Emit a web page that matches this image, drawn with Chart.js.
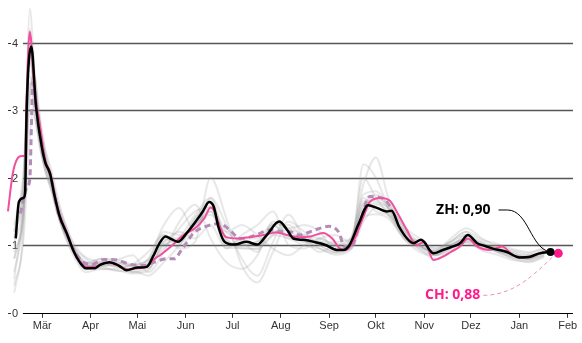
<!DOCTYPE html>
<html>
<head>
<meta charset="utf-8">
<script src="https://cdn.jsdelivr.net/npm/chart.js@4/dist/chart.umd.min.js"></script>
<style>
  body { margin: 0; background: #fff; }
  #chart { display: block; }
</style>
</head>
<body>
<canvas id="chart" width="582" height="343"></canvas>
<script>
// days counted from 1 March 2020
const monthDays = [0, 31, 61, 92, 122, 153, 184, 214, 245, 275, 306, 337]
const monthLabels = ['Mär', 'Apr', 'Mai', 'Jun', 'Jul', 'Aug', 'Sep', 'Okt', 'Nov', 'Dez', 'Jan', 'Feb']
const yTicks = [0, 1, 2, 3, 4]

const zhDays = [-17, -15, -12, -11, -10, -7, -4, 0, 2, 5, 8, 11, 16, 20, 24, 28, 34, 37, 43, 49, 54, 61, 67, 71, 75, 79, 83, 87, 93, 99, 103, 107, 110, 113, 117, 123, 131, 138, 144, 152, 157, 161, 167, 176, 182, 189, 193, 197, 203, 209, 215, 221, 224, 229, 234, 238, 243, 251, 257, 262, 268, 273, 279, 284, 289, 298, 306, 313, 319, 326]
const zhValues = [1.10, 1.64, 1.70, 1.77, 3.0, 3.94, 3.05, 2.42, 2.22, 2.06, 1.72, 1.44, 1.16, 0.92, 0.75, 0.66, 0.66, 0.71, 0.75, 0.70, 0.63, 0.67, 0.68, 0.83, 1.02, 1.13, 1.09, 1.05, 1.19, 1.37, 1.50, 1.64, 1.57, 1.27, 1.05, 1.01, 1.05, 1.01, 1.15, 1.35, 1.23, 1.10, 1.08, 1.04, 1.00, 0.93, 0.93, 1.00, 1.32, 1.59, 1.55, 1.50, 1.51, 1.27, 1.10, 1.03, 1.08, 0.88, 0.93, 0.97, 1.03, 1.15, 1.03, 0.99, 0.95, 0.90, 0.82, 0.83, 0.88, 0.90]

const chDays = [-22, -19, -16, -13, -11, -10, -8, -5, -2, 2, 5, 8, 11, 16, 20, 24, 28, 34, 38, 43, 49, 55, 61, 67, 71, 76, 82, 90, 99, 104, 108, 110, 114, 118, 125, 133, 142, 150, 157, 165, 172, 180, 186, 191, 195, 200, 206, 210, 217, 223, 228, 234, 240, 245, 251, 257, 262, 268, 273, 279, 287, 295, 302, 311, 319, 326, 331]
const chValues = [1.50, 2.05, 2.28, 2.32, 2.32, 3.2, 4.16, 3.3, 2.85, 2.25, 2.08, 1.75, 1.46, 1.17, 0.92, 0.76, 0.68, 0.68, 0.72, 0.74, 0.70, 0.64, 0.66, 0.68, 0.78, 0.86, 0.97, 1.14, 1.27, 1.40, 1.56, 1.52, 1.27, 1.12, 1.10, 1.12, 1.15, 1.19, 1.15, 1.12, 1.13, 1.18, 1.10, 0.95, 0.93, 1.08, 1.42, 1.64, 1.70, 1.66, 1.47, 1.22, 1.00, 1.05, 0.78, 0.83, 0.90, 0.98, 1.10, 0.98, 0.93, 0.98, 0.85, 0.82, 0.88, 0.90, 0.88]

const dashDays = [-14, -10, -8, -6, -3, 1, 5, 10, 16, 21, 26, 32, 40, 48, 56, 64, 72, 80, 85, 89, 93, 97, 105, 114, 120, 127, 133, 140, 146, 152, 159, 165, 172, 178, 184, 190, 194, 198, 204, 210, 219, 224]
const dashValues = [1.47, 1.85, 1.97, 3.4, 2.9, 2.3, 2.05, 1.5, 1.15, 0.9, 0.75, 0.72, 0.79, 0.78, 0.72, 0.70, 0.75, 0.80, 0.80, 0.92, 1.05, 1.18, 1.28, 1.32, 1.23, 1.10, 1.12, 1.18, 1.23, 1.20, 1.20, 1.15, 1.20, 1.25, 1.28, 1.20, 0.98, 0.98, 1.35, 1.72, 1.69, 1.55]

// cantons (grey)
const greyDays = [-18, -12, -8, -5, -2, 2, 6, 10, 15, 21, 28, 38, 48, 58, 68, 78, 88, 98, 108, 118, 128, 138, 148, 158, 168, 178, 188, 198, 206, 214, 222, 232, 242, 252, 262, 272, 282, 292, 302, 312, 322]
const grey1 = [0.4, 1.3, 4.5, 3.6, 2.9, 2.3, 2.0, 1.6, 1.25, 0.9, 0.7, 0.75, 0.72, 0.6, 0.7, 0.95, 1.25, 1.5, 1.55, 1.2, 1.05, 0.9, 1.3, 1.1, 1.15, 1.0, 1.05, 1.1, 1.9, 2.3, 1.7, 1.25, 1.05, 0.95, 1.05, 1.15, 1.05, 0.95, 0.9, 0.85, 0.92]
const grey2 = [0.9, 1.5, 3.3, 3.5, 3.0, 2.4, 2.0, 1.5, 1.1, 0.85, 0.72, 0.8, 0.75, 0.7, 0.8, 1.3, 1.55, 1.2, 1.7, 1.3, 0.8, 0.55, 1.05, 1.45, 1.1, 0.9, 1.0, 1.05, 1.45, 1.6, 1.5, 1.1, 1.0, 0.92, 1.05, 1.2, 0.95, 1.0, 0.88, 0.8, 0.88]
const grey3 = [1.2, 2.0, 3.9, 3.0, 2.5, 2.1, 1.8, 1.45, 1.15, 0.95, 0.8, 0.65, 0.65, 0.72, 0.9, 1.15, 0.95, 1.05, 2.0, 1.4, 0.7, 0.45, 0.9, 1.35, 1.2, 1.0, 0.9, 0.95, 2.2, 2.0, 1.55, 1.15, 0.95, 0.85, 0.95, 1.05, 1.0, 0.92, 0.82, 0.78, 0.85]
const grey4 = [0.6, 1.4, 3.0, 2.9, 2.6, 2.3, 1.9, 1.5, 1.2, 0.92, 0.75, 0.7, 0.78, 0.85, 0.6, 0.9, 1.35, 1.6, 1.1, 0.75, 0.65, 0.85, 1.35, 1.25, 1.3, 1.2, 0.92, 1.1, 1.75, 1.8, 1.6, 1.25, 1.0, 0.92, 1.1, 1.25, 1.1, 0.98, 0.92, 0.88, 0.95]
const grey5 = [1.0, 1.8, 4.2, 3.3, 2.7, 2.2, 1.85, 1.5, 1.2, 0.9, 0.7, 0.68, 0.62, 0.62, 0.55, 0.75, 1.0, 1.3, 1.45, 1.2, 1.3, 1.15, 0.95, 0.85, 1.0, 1.1, 1.15, 1.05, 1.6, 1.75, 1.55, 1.2, 1.0, 0.85, 1.0, 1.05, 0.98, 0.9, 0.8, 0.75, 0.82]
const grey6 = [0.3, 1.1, 2.6, 3.1, 2.8, 2.4, 2.1, 1.7, 1.3, 1.0, 0.82, 0.75, 0.68, 0.7, 0.78, 1.05, 1.2, 1.1, 1.3, 0.95, 1.15, 1.3, 1.5, 1.0, 0.95, 1.1, 1.0, 0.95, 1.35, 1.55, 1.45, 1.15, 0.98, 0.9, 1.0, 1.1, 1.02, 0.92, 0.85, 0.8, 0.9]
const grey7 = [0.8, 1.6, 3.7, 3.4, 2.8, 2.2, 1.9, 1.55, 1.2, 0.88, 0.68, 0.7, 0.7, 0.6, 0.65, 1.0, 1.1, 1.3, 1.5, 1.1, 0.95, 0.95, 1.15, 1.3, 1.1, 0.95, 0.88, 1.0, 2.0, 1.7, 1.45, 1.1, 0.9, 0.85, 0.92, 1.08, 1.0, 0.9, 0.82, 0.8, 0.86]
const grey8 = [1.1, 1.9, 3.5, 3.2, 2.6, 2.1, 1.8, 1.45, 1.15, 0.88, 0.65, 0.72, 0.72, 0.68, 0.72, 1.1, 1.05, 1.4, 1.65, 1.05, 1.0, 1.05, 1.2, 1.15, 1.05, 1.05, 0.95, 1.0, 1.65, 1.65, 1.55, 1.2, 1.0, 0.9, 1.0, 1.1, 1.0, 0.94, 0.86, 0.82, 0.9]
const grey9 = [1.2, 1.8, 3.8, 3.3, 2.8, 2.3, 2.0, 1.62, 1.3, 0.95, 0.74, 0.8, 0.78, 0.72, 0.78, 1.2, 1.15, 1.45, 1.7, 1.12, 1.1, 1.1, 1.32, 1.25, 1.15, 1.1, 1.02, 1.1, 1.62, 1.68, 1.6, 1.28, 1.1, 0.96, 1.06, 1.2, 1.08, 1.02, 0.94, 0.9, 0.96]
const grey10 = [0.8, 1.5, 3.4, 3.0, 2.55, 2.1, 1.85, 1.45, 1.12, 0.8, 0.6, 0.65, 0.63, 0.58, 0.62, 1.02, 0.98, 1.25, 1.5, 0.96, 0.96, 0.94, 1.15, 1.1, 1.0, 0.95, 0.86, 0.94, 1.42, 1.46, 1.4, 1.1, 0.94, 0.8, 0.9, 1.03, 0.92, 0.86, 0.78, 0.76, 0.84]
const grey11 = [1.3, 2.1, 4.0, 3.4, 2.9, 2.25, 1.9, 1.5, 1.18, 0.92, 0.7, 0.68, 0.74, 0.7, 0.66, 1.05, 1.12, 1.3, 1.55, 1.08, 1.0, 1.06, 1.2, 1.22, 1.04, 1.06, 0.98, 0.98, 1.7, 1.5, 1.45, 1.22, 0.98, 0.92, 1.02, 1.08, 1.04, 0.9, 0.88, 0.8, 0.93]
const grey12 = [0.5, 1.6, 3.2, 3.5, 2.6, 2.15, 2.0, 1.6, 1.25, 0.85, 0.64, 0.75, 0.68, 0.64, 0.74, 1.15, 1.02, 1.4, 1.58, 1.0, 1.08, 0.98, 1.3, 1.14, 1.12, 1.0, 0.9, 1.06, 1.55, 1.62, 1.55, 1.14, 1.06, 0.86, 0.96, 1.16, 0.98, 0.97, 0.84, 0.86, 0.88]
const greySeries = [grey1, grey2, grey3, grey4, grey5, grey6, grey7, grey8, grey9, grey10, grey11, grey12]

const zhLabel = 'ZH: 0,90'
const chLabel = 'CH: 0,88'

const black = '#000'
const pink = '#f0509e'
const pinkStrong = '#ff1a8c'
const mauve = '#b48cb8'

function points(days, values) {
    return days.map((d, i) => ({x: d, y: values[i]}))
}

const datasets = [
    {data: points(zhDays, zhValues), borderColor: black, borderWidth: 2.5},
    {data: points(chDays, chValues), borderColor: pink, borderWidth: 2},
    {data: points(dashDays, dashValues), borderColor: mauve, borderWidth: 3, borderDash: [6, 4]},
]
greySeries.forEach(g => {
    datasets.push({data: points(greyDays, g), borderColor: 'rgba(150,150,150,0.22)', borderWidth: 2})
})
datasets.forEach(ds => {
    ds.pointRadius = 0
    ds.cubicInterpolationMode = 'monotone'
    ds.fill = false
})

const decor = {
    id: 'decor',
    beforeDatasetsDraw(chart) {
        const {ctx} = chart
        const xs = chart.scales.x, ys = chart.scales.y
        const x0 = xs.getPixelForValue(-12.4)
        const x1 = xs.getPixelForValue(340.4)
        ctx.save()
        yTicks.forEach(t => {
            const y = Math.round(ys.getPixelForValue(t)) + 0.5
            ctx.beginPath()
            ctx.strokeStyle = t === 0 ? '#000' : '#555'
            ctx.lineWidth = t === 0 ? 1 : 1.5
            ctx.moveTo(x0, y)
            ctx.lineTo(x1, y)
            ctx.stroke()
            // little tick + label
            ctx.beginPath()
            ctx.strokeStyle = '#333'
            ctx.lineWidth = 1
            ctx.moveTo(8, y)
            ctx.lineTo(11, y)
            ctx.stroke()
            ctx.fillStyle = '#333'
            ctx.font = '11px Helvetica, Arial, sans-serif'
            ctx.textAlign = 'left'
            ctx.textBaseline = 'middle'
            ctx.fillText(String(t), 12, y)
        })
        ctx.restore()
    },
    afterDatasetsDraw(chart) {
        const {ctx} = chart
        const xs = chart.scales.x, ys = chart.scales.y
        const zx = xs.getPixelForValue(zhDays[zhDays.length - 1])
        const zy = ys.getPixelForValue(zhValues[zhValues.length - 1])
        const cx = xs.getPixelForValue(chDays[chDays.length - 1])
        const cy = ys.getPixelForValue(chValues[chValues.length - 1])
        ctx.save()

        // CH connector + label
        ctx.beginPath()
        ctx.setLineDash([4, 3])
        ctx.strokeStyle = '#f58cbf'
        ctx.lineWidth = 1
        ctx.moveTo(cx - 75, cy + 42)
        ctx.bezierCurveTo(cx - 45, cy + 42, cx - 25, cy + 22, cx - 5, cy + 3)
        ctx.stroke()
        ctx.setLineDash([])
        ctx.beginPath()
        ctx.fillStyle = pinkStrong
        ctx.arc(cx, cy, 4.5, 0, Math.PI * 2)
        ctx.fill()
        ctx.font = 'bold 14px "Open Sans", sans-serif'
        ctx.textAlign = 'right'
        ctx.textBaseline = 'middle'
        ctx.fillText(chLabel, cx - 78, cy + 42)

        // ZH connector + label
        ctx.beginPath()
        ctx.strokeStyle = '#000'
        ctx.lineWidth = 1
        ctx.moveTo(zx - 52, zy - 42)
        ctx.lineTo(zx - 43, zy - 42)
        ctx.bezierCurveTo(zx - 22, zy - 42, zx - 20, zy - 3, zx, zy)
        ctx.stroke()
        ctx.beginPath()
        ctx.fillStyle = '#000'
        ctx.arc(zx, zy, 4, 0, Math.PI * 2)
        ctx.fill()
        ctx.font = 'bold 14px "Open Sans", sans-serif'
        ctx.fillText(zhLabel, zx - 60, zy - 42)
        ctx.restore()
    }
}

new Chart(document.getElementById('chart'), {
    type: 'line',
    data: {datasets},
    options: {
        responsive: false,
        animation: false,
        devicePixelRatio: 1,
        layout: {padding: {left: 0, right: 0, top: 2, bottom: 8}},
        plugins: {legend: {display: false}, tooltip: {enabled: false}},
        scales: {
            x: {
                type: 'linear',
                min: -27.1,
                max: 346.2,
                afterBuildTicks: scale => {
                    scale.ticks = monthDays.map(v => ({value: v}))
                },
                ticks: {
                    autoSkip: false,
                    maxRotation: 0,
                    padding: 2,
                    color: '#333',
                    font: {family: 'Helvetica, Arial, sans-serif', size: 11},
                    callback: (v, i) => monthLabels[i]
                },
                grid: {drawOnChartArea: false, drawTicks: true, tickLength: 5, color: '#333'},
                border: {display: false}
            },
            y: {
                display: false,
                min: 0,
                max: 4.6
            }
        }
    },
    plugins: [decor]
})
</script>
</body>
</html>
